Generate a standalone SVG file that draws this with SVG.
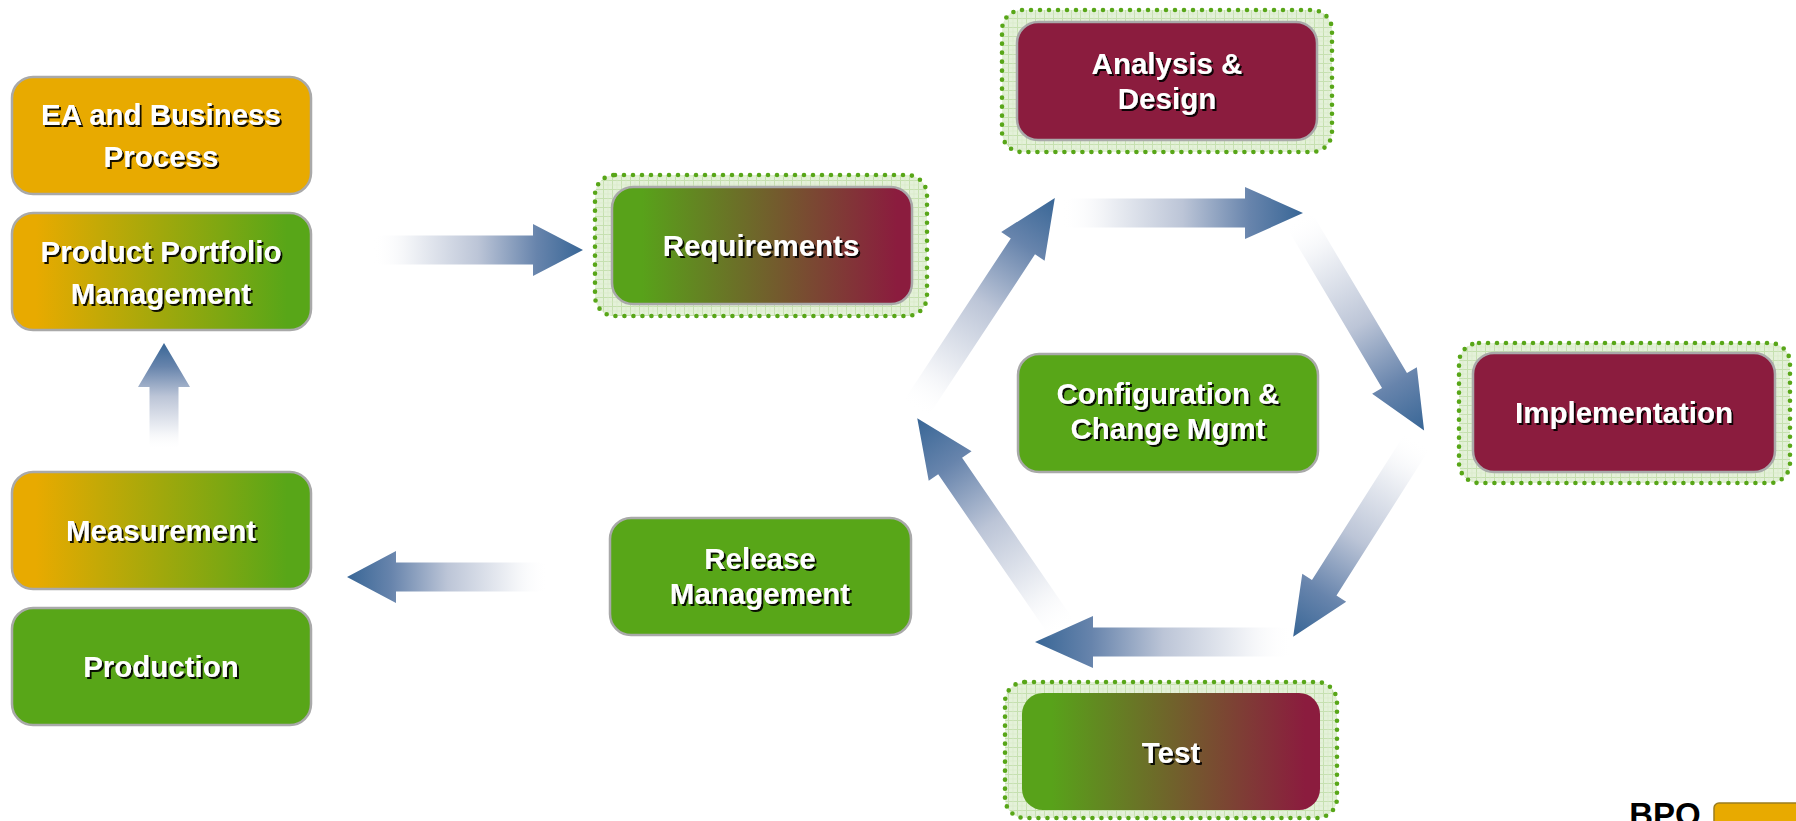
<svg xmlns="http://www.w3.org/2000/svg" width="1796" height="821" viewBox="0 0 1796 821">
<style>
.box{stroke:#a9a9a9;stroke-width:2.5}
.lbl{font-family:"Liberation Sans",Arial,sans-serif;font-weight:bold;font-size:29.5px;fill:#ffffff;text-anchor:middle;filter:url(#sh)}
.frame{fill:url(#grid);stroke:#58a618;stroke-width:4.6;stroke-dasharray:0 9;stroke-linecap:round}
.arr{fill:url(#ag)}
</style>
<defs>
<filter id="sh" x="-10%" y="-30%" width="120%" height="160%">
<feDropShadow dx="2" dy="2" stdDeviation="0.4" flood-color="#000" flood-opacity="0.9"/>
</filter>
<pattern id="grid" width="9" height="9" patternUnits="userSpaceOnUse">
<rect width="9" height="9" fill="#e4f1d9"/>
<path d="M0 0.5H9M0.5 0V9" stroke="#c6e0b0" stroke-width="1"/>
<path d="M0 5H9M5 0V9" stroke="#d6e9c6" stroke-width="0.6"/>
</pattern>
<linearGradient id="gg" x1="0" y1="0" x2="1" y2="0">
<stop offset="0.08" stop-color="#e8aa00"/>
<stop offset="0.92" stop-color="#58a618"/>
</linearGradient>
<linearGradient id="gm" x1="0" y1="0" x2="1" y2="0">
<stop offset="0.1" stop-color="#58a21a"/>
<stop offset="0.95" stop-color="#8b1c3e"/>
</linearGradient>
<linearGradient id="ag" x1="0" y1="0" x2="1" y2="0">
<stop offset="0" stop-color="#ffffff" stop-opacity="0"/>
<stop offset="0.18" stop-color="#f0f2f6"/>
<stop offset="0.5" stop-color="#bcc5d7"/>
<stop offset="0.78" stop-color="#6784ac"/>
<stop offset="1" stop-color="#386696"/>
</linearGradient>
</defs>
<rect width="1796" height="821" fill="#ffffff"/>

<g id="connectors">
<path class="arr" transform="translate(373,250)" d="M0,-14.5H160V-26L210,0L160,26V14.5H0Z"/>
<path class="arr" transform="translate(164,450) rotate(-90)" d="M0,-14.5H63V-26L107,0L63,26V14.5H0Z"/>
<path class="arr" transform="translate(548,577) rotate(180)" d="M0,-14.5H152V-26L201,0L152,26V14.5H0Z"/>
<path class="arr" transform="translate(915,410) rotate(-56.6)" d="M0,-14.5H196V-26L254,0L196,26V14.5H0Z"/>
<path class="arr" transform="translate(1062,213)" d="M0,-14.5H183V-26L241,0L183,26V14.5H0Z"/>
<path class="arr" transform="translate(1298,218) rotate(59.3)" d="M0,-14.5H189V-26L247,0L189,26V14.5H0Z"/>
<path class="arr" transform="translate(1418,440) rotate(122.4)" d="M0,-14.5H175V-26L233,0L175,26V14.5H0Z"/>
<path class="arr" transform="translate(1292,642) rotate(180)" d="M0,-14.5H199V-26L257,0L199,26V14.5H0Z"/>
<path class="arr" transform="translate(1063,630) rotate(-124.55)" d="M0,-14.5H199V-26L257,0L199,26V14.5H0Z"/>
</g>

<g id="ea">
<rect class="box" x="12" y="77" width="299" height="117" rx="21" fill="#e8aa00"/>
<text class="lbl" x="161" y="125">EA and Business</text>
<text class="lbl" x="161" y="167">Process</text>
</g>
<g id="portfolio">
<rect class="box" x="12" y="213" width="299" height="117" rx="21" fill="url(#gg)"/>
<text class="lbl" x="161" y="262">Product Portfolio</text>
<text class="lbl" x="161" y="304">Management</text>
</g>
<g id="measurement">
<rect class="box" x="12" y="472" width="299" height="117" rx="21" fill="url(#gg)"/>
<text class="lbl" x="161" y="541">Measurement</text>
</g>
<g id="production">
<rect class="box" x="12" y="608" width="299" height="117" rx="21" fill="#58a618"/>
<text class="lbl" x="161" y="677">Production</text>
</g>
<g id="requirements">
<rect class="frame" x="595" y="175" width="332" height="141" rx="20"/>
<rect class="box" x="612" y="187" width="300" height="117" rx="21" fill="url(#gm)"/>
<text class="lbl" x="761" y="256">Requirements</text>
</g>
<g id="analysis">
<rect class="frame" x="1002" y="10" width="330" height="142" rx="20"/>
<rect class="box" x="1017" y="22" width="300" height="118" rx="21" fill="#8b1c3e"/>
<text class="lbl" x="1167" y="74">Analysis &amp;</text>
<text class="lbl" x="1167" y="109">Design</text>
</g>
<g id="implementation">
<rect class="frame" x="1459" y="343" width="331" height="140" rx="20"/>
<rect class="box" x="1473" y="353" width="302" height="119" rx="21" fill="#8b1c3e"/>
<text class="lbl" x="1624" y="423">Implementation</text>
</g>
<g id="config">
<rect class="box" x="1018" y="354" width="300" height="118" rx="21" fill="#58a618"/>
<text class="lbl" x="1168" y="404">Configuration &amp;</text>
<text class="lbl" x="1168" y="439">Change Mgmt</text>
</g>
<g id="test">
<rect class="frame" x="1005" y="682" width="332" height="136" rx="20"/>
<rect x="1022" y="693" width="298" height="117" rx="21" fill="url(#gm)"/>
<text class="lbl" x="1171" y="763">Test</text>
</g>
<g id="release">
<rect class="box" x="610" y="518" width="301" height="117" rx="21" fill="#58a618"/>
<text class="lbl" x="760" y="569">Release</text>
<text class="lbl" x="760" y="604">Management</text>
</g>
<g id="legend">
<text x="1665" y="826" font-family="Liberation Sans,Arial,sans-serif" font-weight="bold" font-size="33" fill="#000" text-anchor="middle">BPO</text>
<rect x="1714" y="803" width="100" height="40" rx="5" fill="#e8aa00" stroke="#9a7d20" stroke-width="1.5"/>
</g>
</svg>
